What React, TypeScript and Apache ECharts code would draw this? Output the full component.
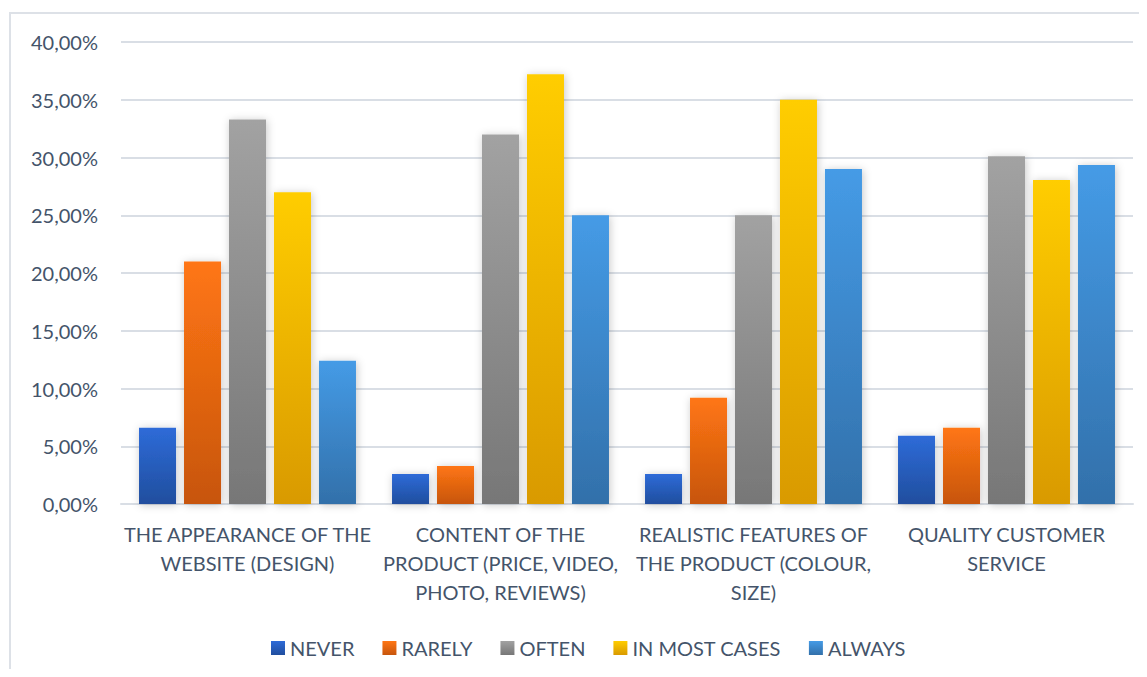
import React, { useEffect, useRef } from "react";
import * as echarts from "echarts";

const categories = [
  "THE APPEARANCE OF THE\nWEBSITE (DESIGN)",
  "CONTENT OF THE\nPRODUCT (PRICE, VIDEO,\nPHOTO, REVIEWS)",
  "REALISTIC FEATURES OF\nTHE PRODUCT (COLOUR,\nSIZE)",
  "QUALITY CUSTOMER\nSERVICE",
];

const seriesNames = ["NEVER", "RARELY", "OFTEN", "IN MOST CASES", "ALWAYS"];

const never = [6.6, 2.6, 2.6, 5.9];
const rarely = [21.0, 3.3, 9.2, 6.6];
const often = [33.3, 32.0, 25.0, 30.1];
const inMostCases = [27.0, 37.2, 35.0, 28.05];
const always = [12.4, 25.0, 29.0, 29.35];

const seriesValues = [never, rarely, often, inMostCases, always];

const topColors = ["#2E6BD8", "#FF7614", "#A2A2A2", "#FFCD00", "#459BE6"];
const bottomColors = ["#204E9E", "#C7550C", "#777777", "#D99A00", "#3270AA"];

const yTicks = [0, 5, 10, 15, 20, 25, 30, 35, 40];

const textColor = "#44546A";
const fontFamily = "Lato, 'Open Sans', sans-serif";

export default function App() {
  const ref = useRef<HTMLDivElement>(null);

  useEffect(() => {
    if (!ref.current) return;
    const chart = echarts.init(ref.current, undefined, { renderer: "svg" });
    const option: any = {
      animation: false,
      backgroundColor: "#ffffff",
      textStyle: { fontFamily },
      graphic: [
        {
          type: "rect",
          shape: { x: 2, y: 5, width: 1200, height: 720 },
          style: { fill: "none", stroke: "#DDE1E7", lineWidth: 2 },
          silent: true,
          z: -1,
        },
      ],
      grid: { left: 113, right: 6, top: 34, bottom: 165, containLabel: false },
      legend: {
        left: 258,
        top: 625,
        itemWidth: 14,
        itemHeight: 14,
        itemGap: 28,
        icon: "rect",
        textStyle: { color: textColor, fontSize: 20, fontFamily },
        data: seriesNames,
      },
      xAxis: {
        type: "category",
        data: categories,
        axisLine: { show: true, lineStyle: { color: "#D9DEE5", width: 2 } },
        axisTick: { show: false },
        axisLabel: {
          color: textColor,
          fontSize: 20,
          fontFamily,
          lineHeight: 29,
          margin: 15,
          interval: 0,
          align: "center",
        },
      },
      yAxis: {
        type: "value",
        min: yTicks[0],
        max: yTicks[yTicks.length - 1],
        interval: 5,
        axisLine: { show: false },
        axisTick: { show: false },
        splitLine: { lineStyle: { color: "#D9DEE5", width: 2 } },
        axisLabel: {
          color: textColor,
          fontSize: 20,
          fontFamily,
          margin: 23,
          formatter: (v: number) => v.toFixed(2).replace(".", ",") + "%",
        },
      },
      series: seriesNames.map((name, i) => ({
        name,
        type: "bar",
        data: seriesValues[i],
        barWidth: 37,
        barGap: "21.6%",
        itemStyle: {
          color: new echarts.graphic.LinearGradient(0, 0, 0, 1, [
            { offset: 0, color: topColors[i] },
            { offset: 1, color: bottomColors[i] },
          ]),
          shadowBlur: 8,
          shadowColor: "rgba(0,0,0,0.22)",
          shadowOffsetX: 1,
          shadowOffsetY: 1,
        },
      })),
    };
    chart.setOption(option);
    return () => chart.dispose();
  }, []);

  return <div ref={ref} style={{ width: 1131, height: 661 }} />;
}
